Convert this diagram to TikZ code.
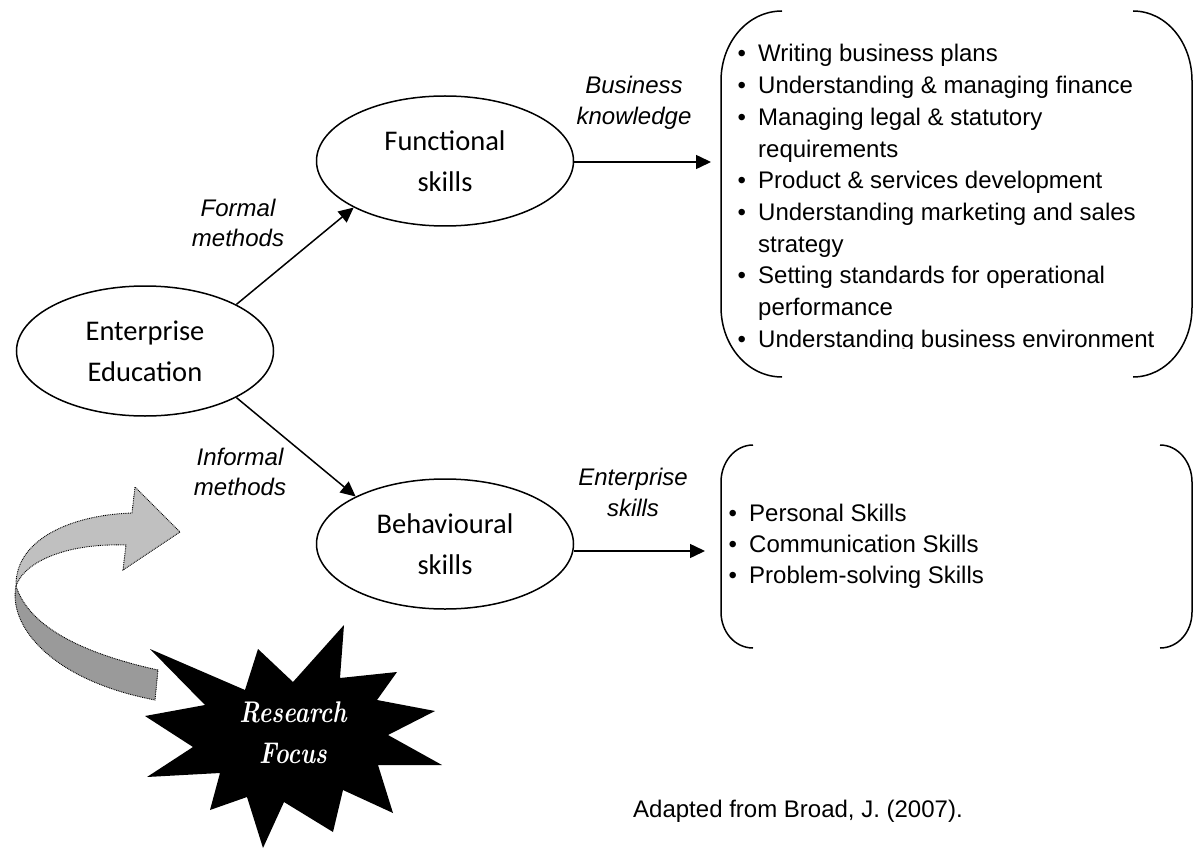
\documentclass[tikz,border=0pt]{standalone}
\usepackage{fontspec}
\newfontfamily\arialf{Liberation Sans}
\newfontfamily\calif{Carlito}
\usetikzlibrary{arrows.meta,shapes.geometric}
\definecolor{bandlight}{HTML}{C0C0C0}
\definecolor{banddark}{HTML}{9A9A9A}
\begin{document}
\begin{tikzpicture}[x=1pt,y=-1pt,
  ell/.style={draw, ellipse, line width=1.5pt, minimum width=257pt, minimum height=130pt, inner sep=0pt, align=center, font=\calif\fontsize{28.5}{41}\selectfont},
  conn/.style={-{Triangle[length=15pt,width=14pt]}, line width=1.5pt},
  lab/.style={font=\arialf\itshape\fontsize{24}{30}\selectfont, anchor=base, inner sep=0pt},
  item/.style={font=\arialf\fontsize{24}{30}\selectfont, anchor=base west, inner sep=0pt},
  brk/.style={line width=1.5pt},
  band/.style={draw=black, line width=0.9pt, dash pattern=on 0.9pt off 0.9pt},
  focus/.style={text=white, font=\bfseries\itshape\fontsize{23}{30}\selectfont, anchor=base, inner sep=0pt}]
\useasboundingbox (0,0) rectangle (1193,850);

% ellipses
\node[ell] (ee) at (145,351) {Enterprise\\Education};
\node[ell] (fs) at (445,161) {Functional\\skills};
\node[ell] (bs) at (445,544) {Behavioural\\skills};

% connectors
\draw[conn] (ee.27) -- (fs.207);
\draw[conn] (ee.-27) -- (bs.152);
\coordinate (t1) at (711,162);
\coordinate (t2) at (705,551);
\draw[conn] (fs.east |- t1) -- (t1);
\draw[conn] (bs.east |- t2) -- (t2);

% connector labels
\node[lab] (l1a) at (238,217) {Formal};
\node[lab] (l1b) at (238,247) {methods};
\node[lab] (l2a) at (240,465) {Informal};
\node[lab] (l2b) at (240,495) {methods};
\node[lab] (l3a) at (634,94) {Business};
\node[lab] (l3b) at (634,125) {knowledge};
\node[lab] (l4a) at (633,485) {Enterprise};
\node[lab] (l4b) at (633,516) {skills};

% upper bracket box
\draw[brk] (782,11) .. controls (748,11) and (721,42) .. (721,81) -- (721,307) .. controls (721,346) and (748,377) .. (782,377);
\draw[brk] (1133,11) .. controls (1166,11) and (1192,42) .. (1192,81) -- (1192,307) .. controls (1192,346) and (1166,377) .. (1133,377);
\node[item] (b1) at (737.5,62) {•};
\node[item] (u1) at (758,62) {Writing business plans};
\node[item] (b2) at (737.5,93.7) {•};
\node[item] (u2) at (758,93.7) {Understanding \& managing finance};
\node[item] (b3) at (737.5,125.4) {•};
\node[item] (u3) at (758,125.4) {Managing legal \& statutory};
\node[item] (u3b) at (758,157.1) {requirements};
\node[item] (b4) at (737.5,188.8) {•};
\node[item] (u4) at (758,188.8) {Product \& services development};
\node[item] (b5) at (737.5,220.5) {•};
\node[item] (u5) at (758,220.5) {Understanding marketing and sales};
\node[item] (u5b) at (758,252.2) {strategy};
\node[item] (b6) at (737.5,283.9) {•};
\node[item] (u6) at (758,283.9) {Setting standards for operational};
\node[item] (u6b) at (758,315.6) {performance};
\begin{scope}
\clip (700,0) rectangle (1193,348.5);
\node[item] (b7) at (737.5,347.3) {•};
\node[item] (u7) at (758,347.3) {Understanding business environment};
\end{scope}

% lower bracket box
\draw[brk] (753,445) .. controls (735,445) and (721,462) .. (721,482) -- (721,612) .. controls (721,632) and (735,648) .. (753,648);
\draw[brk] (1160,445) .. controls (1178,445) and (1192,462) .. (1192,482) -- (1192,612) .. controls (1192,632) and (1178,648) .. (1160,648);
\node[item] (c1) at (728.5,521) {•};
\node[item] (v1) at (749,521) {Personal Skills};
\node[item] (c2) at (728.5,552) {•};
\node[item] (v2) at (749,552) {Communication Skills};
\node[item] (c3) at (728.5,583) {•};
\node[item] (v3) at (749,583) {Problem-solving Skills};

% source
\node[item] (src) at (633,817) {Adapted from Broad, J. (2007).};

% curved ribbon arrow
\filldraw[band, fill=banddark] (16,586) .. controls (8,625) and (50,680) .. (155,700) -- (158,670) .. controls (90,655) and (30,630) .. (16,586) -- cycle;
\filldraw[band, fill=bandlight] (16,586) .. controls (15,540) and (70,515) .. (132,513) -- (135,487) -- (180,532) -- (123,570) -- (126,545) .. controls (70,543) and (25,560) .. (16,586) -- cycle;

% starburst
\fill[black] (344,625) -- (340,678) -- (397,672) -- (377,700) -- (435,711) -- (388,735) -- (442,765) -- (378,765) -- (393,813) -- (343,790) -- (333,832) -- (284,802) -- (263,848) -- (247,797) -- (210,810) -- (220,773) -- (147,777) -- (193,747) -- (145,716) -- (205,705) -- (150,649) -- (245,690) -- (258,649) -- (293,682) -- cycle;
\node[focus] (rf1) at (293,722) {\scalebox{1.05}[1.3]{Research}};
\node[focus] (rf2) at (293,763) {\scalebox{1.05}[1.3]{Focus}};
\end{tikzpicture}
\end{document}
